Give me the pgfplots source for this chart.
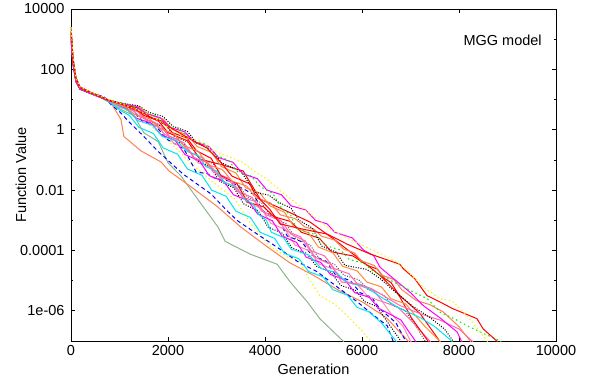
\documentclass[border=0pt]{standalone}
\usepackage{fontspec}
\setmainfont{Liberation Sans}
\usepackage{pgfplots}
\pgfplotsset{compat=1.18}
\definecolor{cred}{RGB}{255,0,0}
\definecolor{cgreen}{RGB}{0,238,0}
\definecolor{cblue}{RGB}{0,0,255}
\definecolor{cmag}{RGB}{255,0,255}
\definecolor{ccyan}{RGB}{0,230,240}
\definecolor{cyel}{RGB}{250,240,0}
\definecolor{ccoral}{RGB}{255,127,80}
\definecolor{corange}{RGB}{255,140,60}
\definecolor{cgray}{RGB}{90,90,90}
\definecolor{chpink}{RGB}{255,105,180}
\definecolor{clpink}{RGB}{255,140,170}
\definecolor{csage}{RGB}{143,180,140}
\begin{document}
\begin{tikzpicture}
\path[use as bounding box] (-71pt,-37pt) rectangle (527pt,341pt);
\begin{axis}[
  scale only axis, width=485pt, height=332pt,
  xmin=0, xmax=10000, ymin=1e-7, ymax=1e4,
  ymode=log, scaled x ticks=false,
  axis line style={line width=0.8pt},
  tick align=inside, major tick length=4pt, minor tick length=2.5pt,
  every tick/.style={black, line width=0.7pt},
  xtick={0,2000,4000,6000,8000,10000},
  xticklabels={0,2000,4000,6000,8000,10000},
  ytick={1e-6,1e-4,1e-2,1,100,1e4},
  yticklabels={1e-06,0.0001,0.01,1,100,10000},
  minor ytick={1e-5,1e-3,0.1,10,1000},
  tick label style={font=\fontsize{14.5pt}{17pt}\selectfont},
  yticklabel style={xshift=-3pt},
  xticklabel style={yshift=-1pt},
  every axis y label/.style={at={(axis description cs:-0.103,0.5)},rotate=90,anchor=center,font=\fontsize{14.5pt}{17pt}\selectfont},
  every axis x label/.style={at={(axis description cs:0.5,0)},anchor=center,yshift=-28pt,font=\fontsize{14.5pt}{17pt}\selectfont},
  xlabel={Generation}, ylabel={Function Value},
  every axis plot/.append style={line width=1pt, mark=none},
  clip=true,
]
% C16 sage
\addplot[csage] coordinates {(0,1000)(20,400)(40,150)(100,40)(185,22)(400,16)(600,12)(800,8)(1000,5)(1300,2.9)(1500,0.8)(1800,0.4)(2000,0.08)(2270,0.029)(2580,5.9e-3)(3030,6e-4)(3180,2e-4)(3690,7.6e-5)(4250,3.5e-5)(4520,9e-6)(4870,2e-6)(5130,5.5e-7)(5340,2.6e-7)(5610,1e-7)(5650,8e-8)};
% C17 yellow lower
\addplot[cyel, dash pattern=on 1.5pt off 2.5pt] coordinates {(0,1800)(20,700)(40,220)(100,52)(185,25)(400,17)(600,12.5)(800,9)(1000,6)(1500,2)(2000,0.45)(2500,0.07)(3000,0.015)(3380,5e-3)(3700,8e-4)(4100,1.4e-4)(4400,7e-5)(4720,4.2e-5)(4900,1.2e-5)(5130,3.2e-6)(5400,1.8e-6)(5610,9.3e-7)(6020,2e-7)(6170,1e-7)(6210,8e-8)};
% C15 coral early
\addplot[ccoral] coordinates {(0,2500)(20,800)(40,250)(100,55)(185,26)(400,17.5)(600,13)(800,9)(1030,2.2)(1090,0.6)(1440,0.2)(1860,0.085)(2020,0.043)(2500,0.012)(3000,3e-3)(3500,6e-4)(4000,1.5e-4)(4500,4e-5)(5000,1.5e-5)(5500,5e-6)(6000,2e-6)(6500,6e-7)(6950,1e-7)(6990,8e-8)};
% C12 blue dashed
\addplot[cblue, dash pattern=on 4pt off 3pt] coordinates {(0,1000)(20,400)(40,150)(100,40)(185,22)(400,16)(680,12.6)(800,7.5)(1000,4)(1200,1.8)(1500,0.6)(1790,0.195)(2310,0.034)(2890,7.4e-3)(3240,1.9e-3)(3440,9.5e-4)(3900,3e-4)(4310,1.1e-4)(4700,4e-5)(5070,2e-5)(5500,6e-6)(5900,2e-6)(6200,8e-7)(6520,3.2e-7)(6640,1e-7)(6680,8e-8)};
% C20 cyan lower
\addplot[ccyan] coordinates {(0,1000)(20,400)(40,150)(100,40)(185,22)(400,16)(600,12)(800,8)(1000,4.5)(1200,3.0)(1400,1.2)(1700,0.75)(1900,0.25)(2200,0.154)(2400,0.05)(2700,0.031)(2900,0.01)(3200,6.2e-3)(3400,2e-3)(3700,1.23e-3)(3900,4e-4)(4200,2.5e-4)(4400,8e-5)(4700,5.3e-5)(4900,2e-5)(5200,1.32e-5)(5400,5e-6)(5700,3.3e-6)(5900,1.3e-6)(6140,9.3e-7)(6400,4e-7)(6700,1e-7)(6740,8e-8)};
% C19 black dotted lower
\addplot[black, dash pattern=on 1pt off 1.5pt] coordinates {(0,2500)(20,800)(40,250)(100,55)(185,26)(400,17.5)(600,13)(800,9)(1000,6)(1360,4.3)(1560,2)(1860,1.3)(2060,0.5)(2360,0.31)(2560,0.1)(2860,0.062)(3060,0.02)(3360,0.0118)(3560,3.5e-3)(3860,2.05e-3)(4060,6e-4)(4360,3.7e-4)(4560,1.2e-4)(4860,7.9e-5)(5060,3e-5)(5360,1.9e-5)(5560,7e-6)(5860,4.8e-6)(6060,2e-6)(6300,1.4e-6)(6460,6e-7)(6800,1e-7)(6840,8e-8)};
% C13 blue dashed 2
\addplot[cblue, dash pattern=on 4pt off 3pt] coordinates {(0,1800)(20,700)(40,220)(100,52)(185,25)(400,17)(600,12.5)(800,9)(1000,6.5)(1260,4.6)(1460,2)(1760,1.3)(1960,0.5)(2330,0.23)(2580,0.04)(2810,0.035)(2960,0.025)(3260,0.02)(3460,0.013)(3760,7.4e-3)(3960,2e-3)(4260,1.13e-3)(4460,3e-4)(4760,1.94e-4)(4960,7e-5)(5260,4.4e-5)(5460,1.5e-5)(5760,1e-5)(5960,4e-6)(6200,2.8e-6)(6360,1.2e-6)(6700,4e-7)(6900,1e-7)(6940,8e-8)};
% C14 pink lower
\addplot[clpink] coordinates {(0,1500)(20,600)(40,180)(100,45)(185,24)(400,16)(600,12)(800,8.5)(1000,5.5)(1420,3.8)(1620,1.6)(1920,1.0)(2120,0.35)(2420,0.226)(2620,0.08)(2920,0.053)(3120,0.02)(3420,0.0123)(3620,4e-3)(3920,2.47e-3)(4120,8e-4)(4420,4.9e-4)(4620,1.5e-4)(4920,9.7e-5)(5120,3.5e-5)(5420,2.4e-5)(5620,1e-5)(5920,7e-6)(6120,3e-6)(6420,2e-6)(6600,8e-7)(6850,3e-7)(7000,1e-7)(7040,8e-8)};
% C18 magenta lower
\addplot[cmag] coordinates {(0,1500)(20,600)(40,180)(100,45)(185,24)(400,16)(600,12)(800,9)(1000,6.5)(1150,4.8)(1350,2.4)(1650,1.66)(1850,0.7)(2150,0.44)(2350,0.15)(2650,0.093)(2850,0.03)(3150,0.0194)(3350,7e-3)(3650,4.5e-3)(3850,1.6e-3)(4150,9.7e-4)(4350,3e-4)(4650,1.85e-4)(4850,6e-5)(5150,4e-5)(5350,1.6e-5)(5650,1.06e-5)(5850,4e-6)(6150,2.8e-6)(6350,1.2e-6)(6800,5e-7)(7100,1e-7)(7140,8e-8)};
% C11 gray dotted
\addplot[cgray, dash pattern=on 1pt off 1.5pt] coordinates {(0,2500)(20,800)(40,250)(100,55)(185,26)(400,17.5)(600,13)(800,9)(1000,6.5)(1430,4.9)(1630,2.5)(1930,1.6)(2130,0.6)(2430,0.37)(2630,0.12)(2930,0.075)(3130,0.025)(3430,0.0163)(3630,6e-3)(3930,3.8e-3)(4130,1.3e-3)(4430,7.9e-4)(4630,2.5e-4)(4930,1.54e-4)(5130,5e-5)(5430,3.5e-5)(5630,1.5e-5)(5930,1.08e-5)(6130,5e-6)(6430,3.5e-6)(6630,1.5e-6)(6870,1.08e-6)(7030,5e-7)(7300,1e-7)(7340,8e-8)};
% C22 pink
\addplot[chpink] coordinates {(0,1500)(20,600)(40,180)(100,45)(185,24)(400,16)(600,12)(800,9)(1000,6.8)(1230,5.1)(1430,2.6)(1730,1.76)(1930,0.7)(2230,0.46)(2430,0.18)(2730,0.115)(2930,0.04)(3230,0.0255)(3430,9e-3)(3730,5.8e-3)(3930,2e-3)(4230,1.28e-3)(4430,4.5e-4)(4730,2.85e-4)(4930,1e-4)(5230,6.6e-5)(5430,2.5e-5)(5730,1.7e-5)(5930,7e-6)(6230,4.8e-6)(6430,2e-6)(6730,1.35e-6)(7000,5e-7)(7400,1e-7)(7440,8e-8)};
% C9 red mid
\addplot[cred] coordinates {(0,1000)(20,400)(40,150)(100,40)(185,22)(400,16)(600,12)(800,9)(1000,7)(1390,5.3)(1590,2.8)(1890,1.9)(2090,0.8)(2390,0.53)(2590,0.2)(2890,0.113)(3090,0.03)(3420,0.0164)(3640,4e-3)(3970,2.8e-3)(4190,1.3e-3)(4530,9.1e-4)(4750,4e-4)(5120,2.56e-4)(5370,9e-5)(5810,6.6e-5)(6110,3.2e-5)(6320,2.4e-5)(6460,1.2e-5)(6600,8.6e-6)(6730,4e-6)(7030,5.5e-7)(7360,1e-7)(7400,8e-8)};
% C10 red steep
\addplot[cred] coordinates {(0,1500)(20,600)(40,180)(100,45)(185,24)(400,16)(600,12)(800,9)(1000,7)(1300,5.4)(1500,3)(1800,2.0)(2000,0.8)(2400,0.43)(2660,0.105)(3100,0.07)(3550,0.043)(3900,5e-3)(4370,2.3e-3)(4930,8.7e-4)(5400,2.5e-4)(5900,6e-5)(6370,1.5e-5)(6800,3e-6)(7200,8e-7)(7600,1e-7)(7640,8e-8)};
% C21 orange
\addplot[corange] coordinates {(0,1800)(20,700)(40,220)(100,52)(185,25)(400,17)(600,12.5)(800,9.5)(1000,7.5)(1400,5.8)(1600,3.2)(1900,2.27)(2100,1.0)(2400,0.68)(2600,0.28)(2900,0.176)(3100,0.06)(3400,0.037)(3600,0.012)(3900,7.9e-3)(4100,3e-3)(4400,1.85e-3)(4600,6e-4)(4900,3.8e-4)(5100,1.3e-4)(5400,8.4e-5)(5600,3e-5)(5900,2.1e-5)(6100,9e-6)(6400,6.2e-6)(6600,2.5e-6)(6900,1.7e-6)(7100,7e-7)(7300,3e-7)(7600,1e-7)(7640,8e-8)};
% C8 cyan upper
\addplot[ccyan] coordinates {(0,1800)(20,700)(40,220)(100,52)(185,25)(400,17)(600,12.5)(800,9)(1000,6)(1180,4.3)(1380,2)(1680,1.4)(1880,0.6)(2180,0.43)(2380,0.2)(2620,0.14)(2780,0.06)(3010,0.042)(3160,0.018)(3410,0.0122)(3570,5e-3)(3750,3.5e-3)(3880,1.5e-3)(4030,1e-3)(4130,4e-4)(4380,2.7e-4)(4540,1.1e-4)(4910,7e-5)(5160,2.5e-5)(5470,1.85e-5)(5680,9e-6)(6050,6.5e-6)(6370,3e-6)(6780,1.2e-6)(7200,6e-7)(7500,3e-7)(7850,1e-7)(7890,8e-8)};
% C7 hot pink
\addplot[chpink] coordinates {(0,1500)(20,600)(40,180)(100,45)(185,24)(400,16)(600,12)(800,9)(1000,6.5)(1330,4.7)(1530,2.2)(1830,1.49)(2030,0.6)(2330,0.37)(2530,0.12)(2830,0.079)(3030,0.03)(3330,0.0185)(3530,6e-3)(3830,3.96e-3)(4030,1.5e-3)(4330,9.7e-4)(4530,3.5e-4)(4830,2.07e-4)(5030,6e-5)(5360,3.4e-5)(5580,9e-6)(5950,7.7e-6)(6200,5.4e-6)(6780,1.5e-6)(7200,8e-7)(7600,5e-7)(8000,2.5e-7)(8270,1e-7)(8310,8e-8)};
% C6 coral upper
\addplot[ccoral] coordinates {(0,2500)(20,800)(40,250)(100,55)(185,26)(400,17.5)(600,13)(800,9)(1000,7)(1120,5.5)(1320,3.2)(1620,2.32)(1820,1.1)(2120,0.74)(2320,0.3)(2620,0.194)(2820,0.07)(3120,0.048)(3320,0.02)(3620,0.0136)(3820,5.5e-3)(4120,3.7e-3)(4320,1.5e-3)(4620,1.14e-3)(4820,6e-4)(5020,4.9e-4)(5160,3e-4)(5440,2.2e-4)(5620,1.1e-4)(5840,8.4e-5)(5990,4.5e-5)(6250,3.2e-5)(6420,1.5e-5)(6660,1.08e-5)(6820,5e-6)(7120,2.2e-6)(7400,1.6e-6)(7670,9.3e-7)(8000,3e-7)(8230,1e-7)(8270,8e-8)};
% C5 black dotted upper
\addplot[black, dash pattern=on 1pt off 1.5pt] coordinates {(0,1800)(20,700)(40,220)(100,52)(185,25)(400,17)(600,12.5)(800,9.5)(1000,7.8)(1400,6.2)(1600,3.8)(1900,2.75)(2100,1.3)(2400,0.88)(2600,0.35)(2900,0.225)(3100,0.08)(3510,0.041)(3790,8.5e-3)(4080,6.8e-3)(4270,4e-3)(4530,2.6e-3)(4700,1e-3)(4980,5.5e-4)(5170,1.4e-4)(5460,9e-5)(5650,3.2e-5)(6100,2.35e-5)(6380,1.15e-5)(6700,4e-6)(7050,1.4e-6)(7400,6e-7)(7700,2.5e-7)(7880,1e-7)(7920,8e-8)};
% C4 magenta upper
\addplot[cmag] coordinates {(0,1000)(20,400)(40,150)(100,40)(185,22)(400,16)(600,12)(800,9)(1000,7.5)(1340,6.0)(1540,3.5)(1840,2.5)(2040,1.2)(2340,0.86)(2540,0.4)(2840,0.28)(3040,0.12)(3340,0.083)(3540,0.035)(3840,0.024)(4040,0.01)(4340,7e-3)(4540,3e-3)(4840,2.2e-3)(5040,1e-3)(5280,7.6e-4)(5440,4e-4)(5800,2.6e-4)(6040,1e-4)(6240,6.8e-5)(6370,2.8e-5)(6700,1e-5)(7000,4e-6)(7260,1.5e-6)(7600,6e-7)(7960,2e-7)(8050,1e-7)(8100,8e-8)};
% C3 green dotted
\addplot[cgreen, dash pattern=on 1.5pt off 3pt] coordinates {(0,1500)(20,600)(40,180)(100,45)(185,24)(400,16)(600,12)(800,9.5)(1000,8)(1240,6.5)(1440,4)(1740,3.0)(1940,1.5)(2240,1.08)(2440,0.5)(2740,0.35)(2940,0.15)(3240,0.1)(3440,0.04)(3720,0.029)(3900,0.013)(4160,7.9e-3)(4340,2.5e-3)(4530,1.5e-3)(4660,5e-4)(5030,3.4e-4)(5280,1.4e-4)(5560,1.03e-4)(5740,5e-5)(6040,3.8e-5)(6240,2e-5)(6720,8e-6)(7050,4.3e-6)(7350,2.5e-6)(7610,9e-7)(7900,5.5e-7)(8170,3.2e-7)(8500,1.8e-7)(8850,1e-7)(8900,8e-8)};
% C2 red upper
\addplot[cred] coordinates {(0,1800)(20,700)(40,220)(100,52)(185,25)(400,17)(600,12.5)(800,9)(1000,7.5)(1500,3.5)(2000,1.3)(2500,0.45)(2800,0.25)(3100,0.08)(3320,0.029)(3690,0.016)(3790,7.4e-3)(4100,2.3e-3)(4310,7.6e-4)(4800,5e-4)(5280,3.5e-4)(5700,1.6e-4)(6170,7.6e-5)(6780,3.5e-5)(6850,2.5e-5)(7090,1.15e-5)(7340,3.2e-6)(7600,2e-6)(7860,1.2e-6)(8370,5.5e-7)(8500,2.5e-7)(8780,1e-7)(8820,8e-8)};
% C1 yellow upper
\addplot[cyel, dash pattern=on 1.5pt off 2.5pt] coordinates {(0,2500)(20,800)(40,250)(100,55)(185,26)(400,17.5)(600,13)(800,9.5)(1000,7.6)(1300,5)(1590,3.2)(1800,2)(2060,1.05)(2330,0.56)(2660,0.42)(2950,0.195)(3500,0.091)(3800,0.04)(4040,0.023)(4300,0.01)(4580,4.4e-3)(5070,1.1e-3)(5350,5e-4)(5610,3e-4)(6170,1.12e-4)(6720,4.2e-5)(6890,2.5e-5)(7260,6.2e-6)(7610,2.5e-6)(7860,2.1e-6)(8170,6.8e-7)(8390,2.5e-7)(8580,1e-7)(8620,8e-8)};
\node[anchor=east, inner sep=0pt, font=\fontsize{14.5pt}{17pt}\selectfont] at (axis description cs:0.971,0.907) {MGG model};
\end{axis}
\end{tikzpicture}
\end{document}
